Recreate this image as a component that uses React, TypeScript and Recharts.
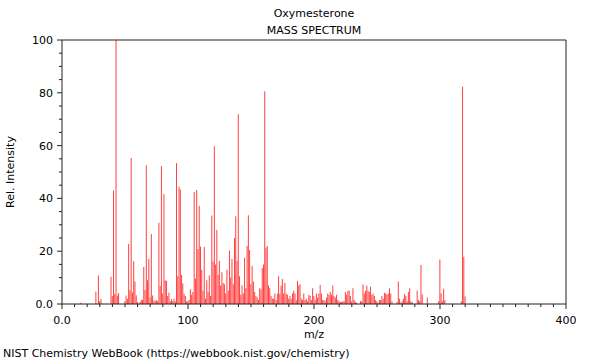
import React from 'react';
import { BarChart, Bar, XAxis, YAxis, ReferenceLine } from 'recharts';

const mzValues: number[] = [
  15, 27, 29, 30, 31, 39, 40, 41, 42, 43, 44, 45, 50, 51, 52, 53, 54, 55, 56, 57, 58, 59,
  60, 62, 63, 64, 65, 66, 67, 68, 69, 70, 71, 72, 73, 74, 75, 76, 77, 78, 79, 80,
  81, 82, 83, 84, 85, 86, 87, 88, 89, 90, 91, 92, 93, 94, 95, 96, 97, 98, 99, 100,
  101, 102, 103, 104, 105, 106, 107, 108, 109, 110, 111, 112, 113, 114, 115, 116, 117, 118, 119, 120,
  121, 122, 123, 124, 125, 126, 127, 128, 129, 130, 131, 132, 133, 134, 135, 136, 137, 138, 139, 140,
  141, 142, 143, 144, 145, 146, 147, 148, 149, 150, 151, 152, 153, 154, 155, 156, 157, 158, 159, 160,
  161, 162, 163, 164, 165, 166, 167, 168, 169, 170, 171, 172, 173, 174, 175, 176, 177, 178, 179, 180,
  181, 182, 183, 184, 185, 186, 187, 188, 189, 190, 191, 192, 193, 194, 195, 196, 197, 198, 199, 200,
  201, 202, 203, 204, 205, 206, 207, 208, 209, 210, 211, 212, 213, 214, 215, 216, 217, 218, 219, 220,
  221, 222, 223, 224, 225, 226, 227, 228, 229, 230, 231, 232, 233, 234, 237, 238, 239, 240,
  241, 242, 243, 244, 245, 246, 247, 248, 249, 250, 251, 252, 253, 254, 255, 256, 257, 258, 259, 260,
  261, 262, 266, 267, 268, 269, 270, 271, 272, 273, 274, 275, 276, 277, 278,
  282, 283, 284, 285, 286, 290, 299, 300, 301, 302, 303, 304, 317, 318, 319, 320,
];

const intensities: number[] = [
  0.5, 4.7, 10.8, 1, 1.9, 10.3, 3, 43, 3.8, 100, 3.2, 4.2, 1, 3.2, 2, 22.7, 5.2, 55.3, 4.4, 16.2, 8.5, 3.3,
  0.8, 0.8, 1.5, 1.5, 14, 5.3, 52.6, 9, 17, 2.5, 26.5, 3.2, 1.2, 1, 1.5, 1, 30.8, 6.9, 52.3, 4,
  41.6, 9, 8.7, 3, 4.4, 1, 1.8, 1, 2, 1, 53.4, 10.5, 44.4, 43.4, 11, 7.8, 3.8, 3, 1, 1,
  1.5, 5.6, 3.5, 4.5, 42.4, 9.7, 43.2, 20.8, 37.2, 21.8, 13, 5, 21.6, 2, 9, 4.5, 10.8, 3, 33.5, 16,
  59.8, 15, 28, 11, 16.4, 7, 12, 8, 7.5, 4, 13, 5, 20.2, 10, 17, 7.5, 25, 33.2, 16.3, 71.9,
  10.5, 3.5, 7, 4, 17.5, 6, 22, 33.6, 20.5, 7.5, 14.5, 8.5, 4.5, 3, 2.5, 1.5, 6, 5.5, 13.5, 15,
  80.6, 21.3, 22, 7, 6, 3, 2, 2, 4, 1.5, 4, 10.5, 3.8, 7, 9.5, 4, 8, 4, 3.5, 2,
  3, 2, 4, 5, 4, 1.5, 8.7, 7, 7.5, 2, 1.5, 4, 1.5, 2, 1, 3.5, 3, 1.5, 6, 3,
  1.5, 4, 2.5, 4, 7.2, 4, 1.5, 1.5, 1, 2.5, 4, 3.5, 4.5, 3.5, 7, 3, 2.5, 3.5, 1.5, 1,
  0.8, 0.8, 1, 1, 4.5, 3.5, 5, 5, 3, 1, 6, 1.5, 0.8, 0.5, 1, 1, 7.4, 4,
  5, 7, 5, 4.5, 6.5, 3.4, 4, 3, 1.5, 1, 0.5, 1.5, 1.5, 3, 2, 4.3, 4, 3.5, 4, 6,
  4, 1, 0.8, 8.5, 2, 0.5, 1, 2, 3.8, 3, 1, 4.5, 6, 1, 0.8,
  5, 1.5, 1, 14.8, 3.6, 2.5, 1, 16.9, 4, 1, 5.8, 1.5, 1, 82.3, 17.9, 2.8,
];

const xTicks: number[] = [
  0, 10, 20, 30, 40, 50, 60, 70, 80, 90, 100, 110, 120, 130, 140, 150, 160, 170, 180, 190, 200,
  210, 220, 230, 240, 250, 260, 270, 280, 290, 300, 310, 320, 330, 340, 350, 360, 370, 380, 390, 400,
];
const yTicks: number[] = [0, 5, 10, 15, 20, 25, 30, 35, 40, 45, 50, 55, 60, 65, 70, 75, 80, 85, 90, 95, 100];

const titleText = 'Oxymesterone';
const subtitleText = 'MASS SPECTRUM';
const xLabel = 'm/z';
const yLabel = 'Rel. Intensity';
const footerText = 'NIST Chemistry WebBook (https://webbook.nist.gov/chemistry)';

const data = mzValues.map((mz, i) => ({ mz, intensity: intensities[i] }));

const FONT = '"DejaVu Sans", sans-serif';
const AXIS = '#222';

const fmt = (v: number) => (v === 0 ? '0.0' : String(v));

const XTick = (props: any) => {
  const { x, y, payload } = props;
  const v = payload.value as number;
  const major = v % 100 === 0;
  return (
    <g>
      <line x1={x} x2={x} y1={y} y2={y + (major ? 5 : 3)} stroke={AXIS} strokeWidth={1} />
      {major && (
        <text x={x} y={y + 20} textAnchor="middle" fontSize={11} fontFamily={FONT} fill="#000">
          {fmt(v)}
        </text>
      )}
    </g>
  );
};

const YTick = (props: any) => {
  const { x, y, payload } = props;
  const v = payload.value as number;
  const major = v % 20 === 0;
  return (
    <g>
      <line x1={x} x2={x - (major ? 5 : 3)} y1={y} y2={y} stroke={AXIS} strokeWidth={1} />
      {major && (
        <text x={x - 9} y={y + 4} textAnchor="end" fontSize={11} fontFamily={FONT} fill="#000">
          {fmt(v)}
        </text>
      )}
    </g>
  );
};

export default function App() {
  return (
    <div style={{ position: 'absolute', left: 0, top: 0, width: 600, height: 360, background: '#fff' }}>
      <BarChart
        width={600}
        height={360}
        data={data}
        margin={{ top: 40, right: 34, bottom: 0, left: 0 }}
        barCategoryGap={0}
      >
        <XAxis
          dataKey="mz"
          type="number"
          domain={[0, 400]}
          ticks={xTicks}
          interval={0}
          tick={<XTick />}
          tickLine={false}
          tickSize={0}
          tickMargin={0}
          height={56}
          axisLine={{ stroke: AXIS }}
          allowDataOverflow
        />
        <YAxis
          type="number"
          domain={[0, 100]}
          ticks={yTicks}
          interval={0}
          tick={<YTick />}
          tickLine={false}
          tickSize={0}
          tickMargin={0}
          width={62}
          axisLine={{ stroke: AXIS }}
          allowDataOverflow
        />
        <ReferenceLine y={100} stroke={AXIS} />
        <ReferenceLine x={400} stroke={AXIS} />
        <Bar dataKey="intensity" fill="#ff4040" barSize={1} isAnimationActive={false} />
      </BarChart>
      <svg
        width={600}
        height={360}
        style={{ position: 'absolute', left: 0, top: 0, pointerEvents: 'none' }}
      >
        <text x={314} y={17} textAnchor="middle" fontSize={11} fontFamily={FONT} fill="#000">
          {titleText}
        </text>
        <text x={314} y={34} textAnchor="middle" fontSize={11} fontFamily={FONT} fill="#000">
          {subtitleText}
        </text>
        <text x={314} y={338} textAnchor="middle" fontSize={11} fontFamily={FONT} fill="#000">
          {xLabel}
        </text>
        <text
          x={14}
          y={172}
          textAnchor="middle"
          fontSize={11}
          fontFamily={FONT}
          fill="#000"
          transform="rotate(-90 14 172)"
        >
          {yLabel}
        </text>
        <text x={3} y={357} textAnchor="start" fontSize={11} fontFamily={FONT} fill="#000">
          {footerText}
        </text>
      </svg>
    </div>
  );
}
